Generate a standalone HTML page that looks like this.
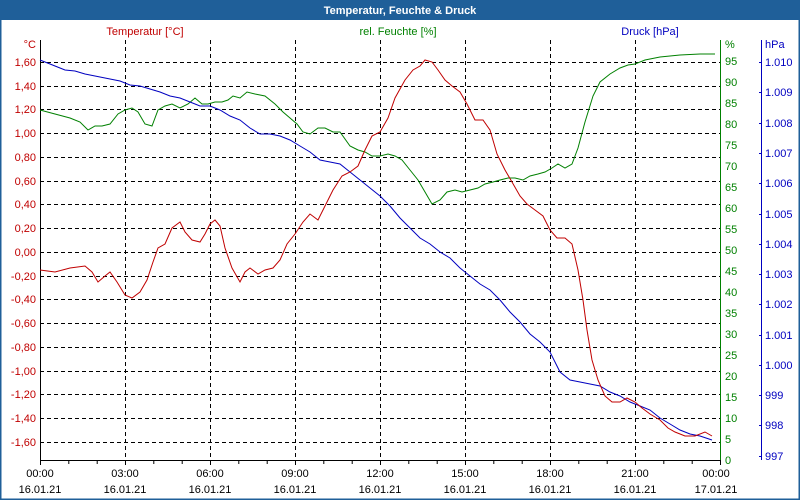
<!DOCTYPE html>
<html><head><meta charset="utf-8"><style>
html,body{margin:0;padding:0;background:#fff;}
svg{display:block;font-family:"Liberation Sans",Tahoma,sans-serif;font-size:11px;}
</style></head><body>
<svg width="800" height="500" viewBox="0 0 800 500" xmlns="http://www.w3.org/2000/svg">
<rect x="0" y="0" width="800" height="500" fill="#fff"/>
<rect x="0.5" y="0.5" width="799" height="499" fill="none" stroke="#1f5f99" stroke-width="2"/>
<rect x="0" y="0" width="800" height="20" fill="#1f5f99"/>
<text x="400" y="14" text-anchor="middle" fill="#fff" font-weight="bold">Temperatur, Feuchte &amp; Druck</text>
<text x="145" y="35" text-anchor="middle" fill="#c00000">Temperatur [°C]</text>
<text x="398" y="35" text-anchor="middle" fill="#008000">rel. Feuchte [%]</text>
<text x="650" y="35" text-anchor="middle" fill="#0000c0">Druck [hPa]</text>
<g stroke="#000" stroke-dasharray="4,3" stroke-width="1">
<path d="M125.5 40V460M210.5 40V460M295.5 40V460M380.5 40V460M465.5 40V460M550.5 40V460M635.5 40V460"/>
<path d="M40 62.5H720M40 86.5H720M40 109.5H720M40 133.5H720M40 157.5H720M40 181.5H720M40 204.5H720M40 228.5H720M40 252.5H720M40 276.5H720M40 299.5H720M40 323.5H720M40 347.5H720M40 371.5H720M40 394.5H720M40 418.5H720M40 442.5H720"/>
</g>
<path d="M40.5 40V460.5H720" fill="none" stroke="#000"/>
<g stroke="#000"><path d="M40.5 460v5M68.8 460v4M97.2 460v4M125.5 460v5M153.8 460v4M182.2 460v4M210.5 460v5M238.8 460v4M267.2 460v4M295.5 460v5M323.8 460v4M352.2 460v4M380.5 460v5M408.8 460v4M437.2 460v4M465.5 460v5M493.8 460v4M522.2 460v4M550.5 460v5M578.8 460v4M607.2 460v4M635.5 460v5M663.8 460v4M692.2 460v4M720.5 460v5"/></g>
<path d="M720.5 40V460" stroke="#008000"/>
<path d="M761.5 40V460" stroke="#0000c0"/>
<g fill="#c00000" text-anchor="end">
<text x="36" y="48">°C</text>
<text x="36" y="66">1,60</text><text x="36" y="90">1,40</text><text x="36" y="113">1,20</text><text x="36" y="137">1,00</text><text x="36" y="161">0,80</text><text x="36" y="185">0,60</text><text x="36" y="208">0,40</text><text x="36" y="232">0,20</text><text x="36" y="256">0,00</text><text x="36" y="280">-0,20</text><text x="36" y="303">-0,40</text><text x="36" y="327">-0,60</text><text x="36" y="351">-0,80</text><text x="36" y="375">-1,00</text><text x="36" y="398">-1,20</text><text x="36" y="422">-1,40</text><text x="36" y="446">-1,60</text>
</g>
<g fill="#008000" text-anchor="start">
<text x="725" y="48">%</text>
<text x="725" y="65">95</text><text x="725" y="86">90</text><text x="725" y="107">85</text><text x="725" y="128">80</text><text x="725" y="149">75</text><text x="725" y="170">70</text><text x="725" y="191">65</text><text x="725" y="212">60</text><text x="725" y="233">55</text><text x="725" y="254">50</text><text x="725" y="275">45</text><text x="725" y="296">40</text><text x="725" y="317">35</text><text x="725" y="338">30</text><text x="725" y="359">25</text><text x="725" y="380">20</text><text x="725" y="401">15</text><text x="725" y="422">10</text><text x="725" y="443">5</text><text x="725" y="464">0</text>
</g>
<g stroke="#0000c0"><path d="M759 62.5h3M759 92.5h3M759 123.5h3M759 153.5h3M759 183.5h3M759 214.5h3M759 244.5h3M759 274.5h3M759 304.5h3M759 335.5h3M759 365.5h3M759 395.5h3M759 425.5h3M759 456.5h3"/></g>
<g fill="#0000c0" text-anchor="start">
<text x="765" y="48">hPa</text>
<text x="765" y="66">1.010</text><text x="765" y="96">1.009</text><text x="765" y="127">1.008</text><text x="765" y="157">1.007</text><text x="765" y="187">1.006</text><text x="765" y="218">1.005</text><text x="765" y="248">1.004</text><text x="765" y="278">1.003</text><text x="765" y="308">1.002</text><text x="765" y="339">1.001</text><text x="765" y="369">1.000</text><text x="765" y="399">999</text><text x="765" y="429">998</text><text x="765" y="460">997</text>
</g>
<g fill="#000" text-anchor="middle">
<text x="40" y="477">00:00</text><text x="40" y="493">16.01.21</text>
<text x="125" y="477">03:00</text><text x="125" y="493">16.01.21</text>
<text x="210" y="477">06:00</text><text x="210" y="493">16.01.21</text>
<text x="295" y="477">09:00</text><text x="295" y="493">16.01.21</text>
<text x="380" y="477">12:00</text><text x="380" y="493">16.01.21</text>
<text x="465" y="477">15:00</text><text x="465" y="493">16.01.21</text>
<text x="550" y="477">18:00</text><text x="550" y="493">16.01.21</text>
<text x="635" y="477">21:00</text><text x="635" y="493">16.01.21</text>
<text x="716" y="477">00:00</text><text x="716" y="493">17.01.21</text>
</g>
<polyline fill="none" stroke="#008000" stroke-width="1" points="40,110 55,114 70,118 80,122 88,130 95,126 102,126 110,124 118,114 125,110 132,108 138,112 145,124 152,126 158,110 165,106 172,104 180,108 188,104 195,98 202,104 208,104 215,102 222,102 228,100 233,96 240,98 247,92 255,94 265,96 275,104 283,112 290,118 297,124 303,132 310,134 318,128 325,128 333,132 340,132 350,146 358,150 365,152 372,156 380,156 388,154 395,156 402,160 410,170 418,180 425,192 432,204 440,200 447,192 455,190 462,192 470,190 478,188 485,184 493,182 500,180 508,178 515,178 523,180 530,176 538,174 545,172 552,168 558,164 565,168 572,164 578,148 585,122 593,96 600,82 610,74 620,68 628,65 635,64 645,60 660,57 680,55 700,54 715,54"/>
<polyline fill="none" stroke="#0000c0" stroke-width="1" points="40,60 55,66 65,70 75,71 85,74 100,77 110,79 120,81 130,85 140,86 150,89 160,92 170,96 180,98 190,102 200,106 210,106 220,110 230,116 240,120 250,128 260,134 270,134 280,136 290,140 300,146 310,152 320,160 330,162 340,164 350,172 360,180 370,188 380,196 390,206 400,218 410,228 420,238 430,244 440,252 450,258 460,268 470,276 480,284 490,290 500,300 510,312 520,322 530,334 540,342 550,352 560,372 570,380 580,382 590,384 600,386 610,392 620,396 630,402 640,406 650,410 660,418 670,424 680,430 690,434 700,436 712,440"/>
<polyline fill="none" stroke="#c00000" stroke-width="1" points="40,270 55,272 70,268 85,266 92,272 98,282 105,276 110,272 117,282 125,295 132,298 140,292 147,280 153,262 158,248 165,244 172,228 180,222 185,232 192,240 200,242 205,234 210,224 215,220 220,226 225,248 232,268 240,282 245,272 250,268 258,274 265,270 273,268 280,260 287,244 295,234 303,222 310,214 318,220 325,206 333,190 342,176 350,172 358,166 365,150 372,136 380,132 388,118 395,98 405,80 413,70 420,66 425,60 432,62 438,70 445,80 452,86 460,92 467,104 475,120 483,120 490,130 497,154 505,170 512,182 520,196 527,204 535,210 543,216 550,230 557,238 565,238 572,244 578,270 583,300 587,330 592,360 598,380 605,396 612,402 620,402 627,398 635,402 642,408 650,414 660,420 668,428 675,432 685,436 695,436 705,432 712,436"/>
</svg>
</body></html>
